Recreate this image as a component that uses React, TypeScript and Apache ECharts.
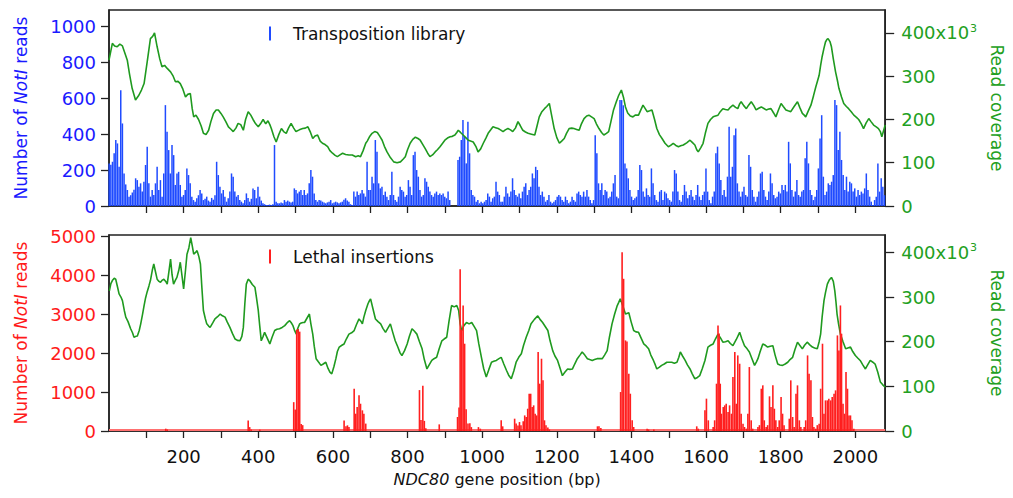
import React, { useEffect, useRef } from 'react';
import * as echarts from 'echarts';

// ---------- data ----------
const X_MAX = 2080;
const BIN_START = 0.5;
const BIN_STEP = 4.43;

// Transposition library: NotI reads per bin (bins of BIN_STEP bp from BIN_START)
const LIBRARY_READS = [
  237, 230, 246, 293, 367, 348, 218, 644, 459, 181,
  120, 89, 52, 60, 75, 90, 154, 144, 107, 126,
  80, 135, 228, 330, 126, 52, 89, 61, 126, 218,
  89, 144, 52, 181, 561, 413, 311, 181, 339, 283,
  117, 181, 190, 117, 52, 61, 89, 209, 172, 126,
  52, 33, 24, 43, 60, 89, 70, 33, 40, 52,
  30, 24, 45, 35, 60, 246, 172, 107, 70, 89,
  52, 24, 43, 80, 181, 163, 80, 52, 61, 33,
  24, 15, 33, 70, 45, 24, 40, 98, 89, 43,
  107, 52, 30, 15, 10, 6, 6, 8, 6, 10,
  339, 24, 15, 15, 20, 15, 33, 24, 30, 24,
  20, 24, 98, 89, 70, 80, 89, 61, 89, 61,
  70, 126, 200, 163, 70, 33, 24, 33, 30, 24,
  20, 15, 20, 24, 33, 15, 20, 24, 20, 15,
  20, 24, 35, 43, 30, 24, 10, 6, 80, 52,
  80, 61, 70,
  89, 70, 52, 246, 89, 89, 163, 126, 367, 302,
  126, 98, 107, 61, 80, 52, 33, 61, 190, 61,
  33, 24, 52, 107, 89, 80, 52, 61, 144, 107,
  61, 283, 302, 200, 163, 89, 52, 61, 154, 135,
  107, 80, 61, 52, 70, 80, 61, 70, 61, 70,
  52, 43, 80, 33, 0, 0, 0, 0, 256, 274,
  367, 478, 385, 237, 469, 293, 89, 61, 52, 24,
  33, 15, 24, 15, 24, 33, 70, 52, 24, 43,
  52, 135, 80, 61, 24, 24, 52, 107, 70, 52,
  80, 154, 89, 61, 52, 70, 43, 80, 107, 126,
  61, 89, 107, 181, 154, 218, 200, 107, 61, 80,
  52, 24, 33, 61, 24, 15, 24, 33, 52, 61,
  52, 33, 24, 52, 33, 15, 24, 52, 33, 24,
  70, 80, 61, 52, 80, 52, 89, 52, 33, 15,
  33, 394, 293, 126, 89, 126, 61, 89, 80, 43,
  52, 80, 126, 172, 52, 43,
  589, 589, 560, 237, 209, 154, 89, 52, 33, 43,
  52, 89, 228, 200, 80, 52, 98, 61, 52, 209,
  126, 61, 33, 24, 80, 89, 33, 80, 70, 43,
  33, 24, 80, 200, 181, 80, 33, 24, 61, 117,
  80, 43, 61, 89, 52, 33, 61, 117, 52, 33,
  61, 80, 209, 80, 33, 15, 52, 80, 293, 330,
  237, 144, 61, 89, 52, 163, 441, 163, 218, 394,
  431, 126, 80, 52, 80, 107, 61, 52, 283, 218,
  89, 52, 24, 52, 80, 181, 190, 89, 52, 33,
  80, 181, 126, 61, 43, 52, 80, 70, 117, 89,
  117, 80, 357, 237, 89, 52, 80, 144, 61, 52,
  80, 89, 265, 357, 237, 89, 61, 33, 52, 89,
  209, 376, 505, 163, 61, 80, 126, 117, 135, 172,
  589, 561, 311, 413, 256, 172, 89, 163, 80, 135,
  126, 80, 98, 52, 89, 61, 80, 70, 98, 181,
  89, 52, 24, 6, 33, 52, 237, 80, 154, 107,
  60,
];

// Lethal insertions: [position bp, NotI reads]
const LETHAL_READS: [number, number][] = [
  [152, 60], [156, 40], [373, 270], [377, 100], [381, 40], [404, 35],
  [495, 740], [499, 550], [503, 2600], [507, 2620], [511, 2550], [515, 180], [519, 150],
  [630, 270], [635, 120], [639, 145], [643, 100],
  [657, 1085], [661, 444], [665, 615], [670, 915], [674, 700], [679, 530], [683, 444], [688, 190],
  [832, 1050], [836, 280], [841, 1160], [845, 260], [849, 70], [885, 170],
  [934, 360], [938, 600], [941, 4150], [945, 2600], [949, 3220], [953, 2240], [957, 560],
  [962, 190], [967, 200], [971, 100], [990, 100], [995, 60], [1051, 274], [1055, 120],
  [1087, 316], [1091, 190], [1096, 140], [1100, 230], [1104, 150], [1110, 250], [1114, 400],
  [1118, 360], [1122, 572], [1126, 957], [1130, 957], [1134, 615], [1138, 658], [1142, 444],
  [1146, 400], [1150, 2025], [1154, 1214], [1159, 1855], [1163, 1300], [1167, 274], [1171, 150],
  [1176, 90], [1180, 40], [1309, 120], [1313, 120], [1318, 80],
  [1371, 1000], [1375, 4590], [1379, 3906], [1384, 2325], [1388, 2300], [1393, 1470],
  [1397, 957], [1402, 274], [1406, 103], [1442, 60], [1446, 40], [1460, 40],
  [1575, 120], [1579, 60], [1597, 530], [1601, 830], [1606, 274],
  [1619, 103], [1623, 274], [1628, 1214], [1632, 2710], [1635, 2500], [1638, 1214], [1641, 444],
  [1646, 615], [1650, 658], [1654, 700], [1659, 487], [1663, 658], [1668, 444], [1672, 1385],
  [1677, 2025], [1681, 700], [1685, 1940], [1690, 1726], [1694, 444], [1699, 188], [1703, 103],
  [1708, 60], [1712, 444], [1716, 1641], [1721, 274], [1725, 60],
  [1739, 103], [1743, 150], [1748, 1085], [1752, 1171], [1756, 274], [1761, 103], [1765, 150],
  [1770, 890], [1774, 615], [1779, 1171], [1783, 572], [1787, 274], [1792, 103],
  [1796, 274], [1801, 872], [1805, 444], [1809, 150],
  [1823, 316], [1827, 1300], [1832, 359], [1836, 103], [1841, 957], [1845, 1171], [1850, 274], [1854, 103],
  [1863, 103], [1867, 274], [1872, 1940], [1876, 1470], [1881, 1300], [1885, 359], [1889, 103],
  [1894, 60], [1898, 150], [1903, 188], [1907, 1085], [1912, 2240], [1916, 444], [1920, 786],
  [1925, 786], [1929, 830], [1934, 786], [1938, 872], [1943, 957], [1947, 1043], [1952, 2453],
  [1956, 2068], [1960, 3222], [1963, 2496], [1967, 700], [1971, 444], [1975, 1513], [1979, 1085],
  [1983, 400], [1987, 400], [1991, 274], [1996, 60],
];
// low background reads along the whole gene
const LETHAL_FLOOR: [number, number][] = [[0, 25], [2080, 25]];

// Read coverage (x10^3)
const LIBRARY_COVERAGE: [number, number][] = [
  [0, 337], [9, 376], [15, 370], [22, 368], [29, 374], [36, 370], [42, 355], [49, 337], [55, 305], [62, 272],
  [71, 245], [80, 256], [87, 268], [94, 283], [103, 337], [111, 387], [117, 392], [122, 400], [129, 368], [136, 340],
  [142, 322], [149, 325], [156, 318], [165, 310], [172, 300], [178, 287], [185, 288], [191, 283], [198, 270], [205, 252],
  [211, 258], [218, 260], [223, 225], [227, 206], [233, 210], [240, 200], [247, 185], [253, 168], [260, 165], [267, 175],
  [273, 195], [280, 214], [287, 222], [293, 222], [300, 214], [306, 206], [313, 195], [320, 183], [326, 178], [333, 172],
  [340, 180], [346, 191], [353, 188], [360, 175], [366, 200], [373, 218], [380, 210], [386, 200], [393, 190], [400, 183],
  [406, 190], [413, 200], [420, 190], [426, 197], [431, 188], [435, 179], [442, 160], [448, 148], [455, 165], [462, 179],
  [468, 172], [475, 168], [481, 180], [488, 191], [495, 180], [501, 172], [510, 176], [519, 179], [526, 180], [533, 183],
  [540, 170], [546, 156], [552, 162], [559, 164], [566, 150], [572, 145], [579, 142], [586, 137], [592, 128], [599, 122],
  [606, 117], [612, 114], [619, 118], [626, 122], [634, 119], [643, 118], [652, 118], [661, 114], [668, 116], [674, 114],
  [681, 128], [688, 145], [692, 150], [698, 160], [705, 168], [712, 172], [719, 170], [725, 162], [732, 152], [738, 138],
  [745, 125], [754, 112], [763, 102], [772, 100], [781, 102], [788, 108], [794, 114], [800, 130], [807, 145], [814, 154],
  [821, 159], [828, 156], [834, 152], [841, 142], [847, 133], [854, 122], [860, 114], [867, 118], [874, 125], [880, 130],
  [887, 137], [894, 145], [900, 152], [907, 157], [914, 160], [920, 161], [927, 164], [932, 170], [936, 175], [942, 170],
  [949, 164], [956, 158], [963, 152], [969, 150], [976, 148], [983, 138], [989, 125], [996, 132], [1003, 145], [1010, 157],
  [1016, 168], [1023, 176], [1029, 183], [1036, 181], [1043, 179], [1049, 176], [1056, 172], [1062, 176], [1069, 179], [1076, 176],
  [1082, 172], [1089, 180], [1096, 195], [1102, 186], [1109, 175], [1116, 171], [1123, 168], [1132, 166], [1141, 164], [1147, 185],
  [1153, 206], [1160, 218], [1167, 225], [1173, 230], [1180, 237], [1186, 210], [1193, 179], [1200, 158], [1207, 145], [1213, 150],
  [1220, 156], [1226, 168], [1233, 179], [1240, 180], [1246, 179], [1253, 177], [1260, 175], [1266, 190], [1273, 202], [1280, 208],
  [1286, 210], [1293, 206], [1300, 202], [1306, 190], [1313, 179], [1320, 170], [1326, 164], [1333, 168], [1339, 172], [1345, 195],
  [1352, 222], [1359, 240], [1366, 256], [1373, 268], [1379, 250], [1384, 229], [1390, 215], [1397, 208], [1404, 206], [1410, 210],
  [1419, 210], [1424, 220], [1431, 233], [1437, 225], [1442, 218], [1449, 220], [1455, 222], [1462, 200], [1468, 179], [1475, 165],
  [1482, 156], [1490, 145], [1499, 137], [1505, 140], [1512, 145], [1519, 140], [1526, 137], [1532, 139], [1539, 141], [1548, 146],
  [1557, 152], [1563, 147], [1570, 141], [1575, 130], [1579, 125], [1586, 135], [1592, 145], [1598, 168], [1605, 191], [1612, 200],
  [1619, 206], [1625, 208], [1632, 210], [1638, 218], [1645, 225], [1652, 223], [1659, 222], [1665, 228], [1672, 233], [1679, 228],
  [1685, 225], [1690, 236], [1694, 241], [1701, 232], [1708, 225], [1714, 233], [1721, 241], [1728, 232], [1734, 222], [1741, 226],
  [1748, 229], [1754, 226], [1761, 222], [1768, 224], [1774, 225], [1781, 215], [1787, 206], [1794, 222], [1801, 237], [1807, 230],
  [1814, 222], [1820, 220], [1827, 218], [1836, 230], [1845, 241], [1851, 228], [1858, 214], [1863, 210], [1867, 206], [1874, 220],
  [1881, 233], [1888, 255], [1894, 275], [1899, 290], [1903, 302], [1907, 325], [1911, 345], [1916, 365], [1920, 379], [1924, 385],
  [1927, 387], [1932, 380], [1936, 368], [1941, 340], [1947, 310], [1952, 290], [1956, 272], [1963, 252], [1969, 237], [1976, 230],
  [1982, 225], [1989, 218], [1996, 210], [2003, 205], [2009, 200], [2016, 190], [2022, 179], [2029, 192], [2036, 202], [2042, 195],
  [2049, 187], [2056, 183], [2062, 179], [2067, 172], [2071, 160], [2076, 175], [2080, 187],
];

const LETHAL_COVERAGE: [number, number][] = [
  [1, 314], [5, 330], [9, 337], [14, 342], [18, 340], [23, 322], [27, 307], [32, 300], [36, 292], [41, 270],
  [45, 255], [51, 245], [58, 229], [63, 220], [67, 210], [72, 212], [76, 213], [81, 225], [85, 240], [90, 262],
  [94, 281], [98, 298], [102, 311], [107, 325], [111, 337], [116, 360], [120, 374], [125, 355], [129, 340], [134, 335],
  [138, 333], [143, 338], [147, 340], [152, 335], [156, 329], [161, 360], [165, 385], [169, 350], [173, 329], [178, 338],
  [182, 344], [187, 360], [191, 378], [196, 345], [200, 318], [205, 360], [209, 396], [214, 410], [219, 433], [223, 415],
  [227, 396], [232, 400], [236, 404], [241, 390], [245, 374], [249, 320], [253, 270], [258, 252], [262, 240], [267, 235],
  [271, 232], [278, 242], [284, 251], [291, 256], [298, 262], [304, 258], [311, 255], [317, 244], [324, 232], [331, 218],
  [338, 206], [344, 203], [351, 202], [356, 212], [360, 232], [364, 285], [368, 329], [373, 340], [377, 337], [384, 328],
  [391, 322], [395, 300], [400, 270], [404, 235], [408, 202], [413, 212], [417, 221], [424, 208], [431, 195], [437, 210],
  [444, 225], [450, 228], [457, 229], [464, 232], [471, 236], [477, 242], [484, 247], [488, 243], [493, 236], [497, 226],
  [502, 217], [506, 230], [511, 240], [515, 242], [520, 243], [524, 243], [530, 252], [537, 262], [541, 240], [546, 217],
  [550, 190], [555, 162], [561, 155], [568, 147], [574, 150], [581, 154], [587, 140], [592, 132], [597, 128], [603, 145],
  [608, 162], [612, 178], [617, 188], [624, 192], [630, 195], [636, 206], [643, 217], [650, 220], [657, 225], [663, 238],
  [670, 251], [675, 246], [679, 240], [683, 255], [688, 270], [694, 285], [698, 292], [701, 296], [707, 275], [714, 251],
  [721, 245], [728, 240], [734, 230], [741, 221], [747, 230], [754, 240], [760, 222], [767, 202], [774, 188], [780, 175],
  [785, 169], [792, 180], [799, 195], [805, 212], [812, 229], [818, 224], [825, 217], [832, 200], [839, 184], [845, 160],
  [852, 139], [858, 148], [865, 158], [871, 162], [878, 165], [885, 185], [892, 202], [898, 206], [905, 210], [911, 245],
  [918, 281], [925, 278], [932, 281], [937, 270], [941, 240], [945, 225], [951, 236], [958, 243], [965, 240], [972, 243],
  [978, 235], [985, 225], [991, 195], [998, 165], [1004, 140], [1011, 121], [1018, 138], [1025, 154], [1031, 156], [1038, 158],
  [1045, 162], [1051, 165], [1058, 150], [1065, 136], [1071, 125], [1078, 117], [1085, 135], [1091, 154], [1098, 165], [1105, 173],
  [1111, 192], [1118, 210], [1125, 225], [1131, 240], [1140, 250], [1149, 258], [1155, 250], [1162, 243], [1169, 234], [1176, 225],
  [1182, 202], [1189, 180], [1195, 168], [1202, 158], [1209, 140], [1215, 124], [1222, 132], [1229, 139], [1235, 138], [1242, 139],
  [1248, 150], [1255, 162], [1262, 170], [1268, 177], [1275, 170], [1282, 162], [1288, 160], [1295, 158], [1301, 160], [1308, 162],
  [1315, 162], [1322, 162], [1328, 170], [1335, 180], [1341, 210], [1348, 240], [1355, 262], [1362, 281], [1366, 288], [1370, 296],
  [1377, 280], [1384, 262], [1393, 265], [1399, 245], [1406, 225], [1412, 222], [1419, 221], [1426, 208], [1433, 195], [1440, 190],
  [1446, 184], [1452, 170], [1459, 158], [1464, 148], [1468, 139], [1475, 143], [1481, 147], [1488, 150], [1495, 154], [1501, 154],
  [1508, 154], [1515, 152], [1522, 154], [1527, 165], [1531, 177], [1537, 168], [1544, 158], [1550, 148], [1557, 139], [1563, 128],
  [1570, 117], [1577, 120], [1583, 124], [1590, 140], [1597, 158], [1605, 188], [1612, 192], [1619, 195], [1625, 206], [1632, 217],
  [1639, 208], [1645, 199], [1652, 200], [1659, 202], [1665, 196], [1672, 191], [1681, 205], [1690, 221], [1696, 206], [1703, 191],
  [1710, 184], [1716, 177], [1723, 162], [1730, 147], [1735, 155], [1739, 162], [1745, 178], [1752, 195], [1759, 192], [1765, 188],
  [1772, 190], [1779, 191], [1785, 170], [1792, 150], [1798, 148], [1805, 147], [1812, 150], [1819, 154], [1825, 160], [1832, 165],
  [1838, 182], [1845, 199], [1851, 192], [1858, 184], [1864, 192], [1871, 199], [1878, 193], [1885, 188], [1891, 186], [1898, 184],
  [1903, 200], [1907, 217], [1911, 255], [1916, 292], [1920, 310], [1925, 329], [1930, 338], [1936, 344], [1941, 335], [1945, 314],
  [1948, 290], [1951, 262], [1955, 240], [1960, 217], [1967, 200], [1974, 184], [1980, 186], [1987, 188], [1993, 178], [2000, 169],
  [2007, 163], [2013, 158], [2020, 148], [2027, 139], [2033, 148], [2040, 158], [2047, 154], [2053, 150], [2060, 132], [2067, 110],
  [2073, 104], [2080, 98],
];

const X_TICKS = [100, 200, 300, 400, 500, 600, 700, 800, 900, 1000, 1100, 1200, 1300, 1400, 1500, 1600, 1700, 1800, 1900, 2000];
const X_LABELS = [200, 400, 600, 800, 1000, 1200, 1400, 1600, 1800, 2000];
const LIBRARY_TICKS = [0, 200, 400, 600, 800, 1000];
const LETHAL_TICKS = [0, 1000, 2000, 3000, 4000, 5000];
const COVERAGE_TICKS = [0, 100, 200, 300, 400];

// ---------- styling ----------
const FONT = 'DejaVu Sans';
const BLUE = '#1f4bff';
const BLUE_TEXT = '#1a1aff';
const RED = '#ff1f1f';
const RED_TEXT = '#ff1a1a';
const GREEN = '#1f9a1f';
const GREEN_TEXT = '#22a022';
const FRAME = '#222';

const plain = (v: number) => String(v);

export default function App() {
  const ref = useRef<HTMLDivElement>(null);

  useEffect(() => {
    if (!ref.current) return;
    const chart = echarts.init(ref.current, undefined, { renderer: 'svg' });

    const libraryBars = LIBRARY_READS.map((v, i) => [BIN_START + i * BIN_STEP, v]);

    const xAxisBase = (gridIndex: number, showLabels: boolean) => ({
      type: 'value',
      gridIndex,
      min: 0,
      max: X_MAX,
      interval: 100,
      splitLine: { show: false },
      axisLine: { show: true, onZero: false, lineStyle: { color: FRAME, width: 1.5 } },
      axisTick: { show: true, length: 7, lineStyle: { color: FRAME, width: 1.3 }, customValues: X_TICKS },
      axisLabel: {
        show: showLabels,
        customValues: X_LABELS,
        formatter: plain,
        margin: 16,
        color: '#111',
        fontSize: 18,
        fontFamily: FONT,
      },
    });

    const leftAxis = (gridIndex: number, max: number, interval: number, ticks: number[], color: string, name: string) => ({
      type: 'value',
      gridIndex,
      position: 'left',
      min: 0,
      max,
      interval,
      splitLine: { show: false },
      axisLine: { show: true, onZero: false, lineStyle: { color: FRAME, width: 1.5 } },
      axisTick: { show: true, length: 8, lineStyle: { color: FRAME, width: 1.3 }, customValues: ticks },
      axisLabel: { customValues: ticks, formatter: plain, margin: 13, color, fontSize: 18, fontFamily: FONT },
      name,
      nameLocation: 'middle',
      nameRotate: 90,
      nameGap: 80,
      nameTextStyle: {
        rich: {
          a: { color, fontSize: 17, fontFamily: FONT },
          b: { color, fontSize: 17, fontFamily: FONT, fontStyle: 'italic' },
        },
      },
    });

    const rightAxis = (gridIndex: number, max: number) => ({
      type: 'value',
      gridIndex,
      position: 'right',
      min: 0,
      max,
      interval: 100,
      splitLine: { show: false },
      axisLine: { show: true, onZero: false, lineStyle: { color: FRAME, width: 1.5 } },
      axisTick: { show: true, length: 9, lineStyle: { color: FRAME, width: 1.3 }, customValues: COVERAGE_TICKS },
      axisLabel: {
        customValues: COVERAGE_TICKS,
        margin: 16,
        formatter: (v: number) => (v === 400 ? '{n|400x10}{s|3}' : '{n|' + v + '}'),
        rich: {
          n: { color: GREEN_TEXT, fontSize: 18, fontFamily: FONT, lineHeight: 20 },
          s: { color: GREEN_TEXT, fontSize: 11, fontFamily: FONT, verticalAlign: 'top', lineHeight: 20, padding: [0, 0, 8, 1] },
        },
      },
      name: 'Read coverage',
      nameLocation: 'middle',
      nameRotate: -90,
      nameGap: 99,
      nameTextStyle: { color: GREEN_TEXT, fontSize: 17, fontFamily: FONT },
    });

    const legendIcon = 'path://M0,0H2V14H0Z';

    chart.setOption({
      animation: false,
      backgroundColor: '#ffffff',
      textStyle: { fontFamily: FONT },
      grid: [
        { left: 109, right: 121, top: 10, height: 196, show: true, borderColor: FRAME, borderWidth: 1.5, backgroundColor: 'transparent' },
        { left: 109, right: 121, top: 235, height: 196, show: true, borderColor: FRAME, borderWidth: 1.5, backgroundColor: 'transparent' },
      ],
      legend: [
        {
          data: ['Transposition library'],
          left: 264,
          top: 20,
          icon: legendIcon,
          itemWidth: 36,
          itemHeight: 14,
          symbolKeepAspect: true,
          selectedMode: false,
          textStyle: { color: '#111', fontSize: 17, fontFamily: FONT },
        },
        {
          data: ['Lethal insertions'],
          left: 264,
          top: 243,
          icon: legendIcon,
          itemWidth: 36,
          itemHeight: 14,
          symbolKeepAspect: true,
          selectedMode: false,
          textStyle: { color: '#111', fontSize: 17, fontFamily: FONT },
        },
      ],
      xAxis: [
        xAxisBase(0, false),
        {
          ...xAxisBase(1, true),
          name: '{i|NDC80}{a| gene position (bp)}',
          nameLocation: 'middle',
          nameGap: 40,
          nameTextStyle: {
            rich: {
              i: { color: '#111', fontSize: 16, fontFamily: FONT, fontStyle: 'italic' },
              a: { color: '#111', fontSize: 16, fontFamily: FONT },
            },
          },
        },
      ],
      yAxis: [
        leftAxis(0, 1090, 200, LIBRARY_TICKS, BLUE_TEXT, '{a|Number of }{b|NotI}{a| reads}'),
        rightAxis(0, 453),
        leftAxis(1, 5030, 1000, LETHAL_TICKS, RED_TEXT, '{a|Number of }{b|NotI}{a| reads}'),
        rightAxis(1, 439),
      ],
      series: [
        {
          name: 'Transposition library',
          type: 'bar',
          xAxisIndex: 0,
          yAxisIndex: 0,
          data: libraryBars,
          barWidth: 1.5,
          itemStyle: { color: BLUE },
          z: 2,
        },
        {
          name: 'Library coverage',
          type: 'line',
          xAxisIndex: 0,
          yAxisIndex: 1,
          data: LIBRARY_COVERAGE,
          showSymbol: false,
          symbol: 'none',
          lineStyle: { color: GREEN, width: 1.6 },
          z: 3,
        },
        {
          name: 'Lethal coverage',
          type: 'line',
          xAxisIndex: 1,
          yAxisIndex: 3,
          data: LETHAL_COVERAGE,
          showSymbol: false,
          symbol: 'none',
          lineStyle: { color: GREEN, width: 1.6 },
          z: 2,
        },
        {
          name: 'Lethal floor',
          type: 'line',
          xAxisIndex: 1,
          yAxisIndex: 2,
          data: LETHAL_FLOOR,
          showSymbol: false,
          symbol: 'none',
          lineStyle: { color: '#ff7070', width: 2 },
          z: 3,
        },
        {
          name: 'Lethal insertions',
          type: 'bar',
          xAxisIndex: 1,
          yAxisIndex: 2,
          data: LETHAL_READS,
          barWidth: 1.6,
          itemStyle: { color: RED },
          z: 4,
        },
      ],
    });

    return () => chart.dispose();
  }, []);

  return (
    <div
      ref={ref}
      style={{ position: 'absolute', left: 0, top: 0, width: 1013, height: 498, background: '#fff' }}
    />
  );
}
